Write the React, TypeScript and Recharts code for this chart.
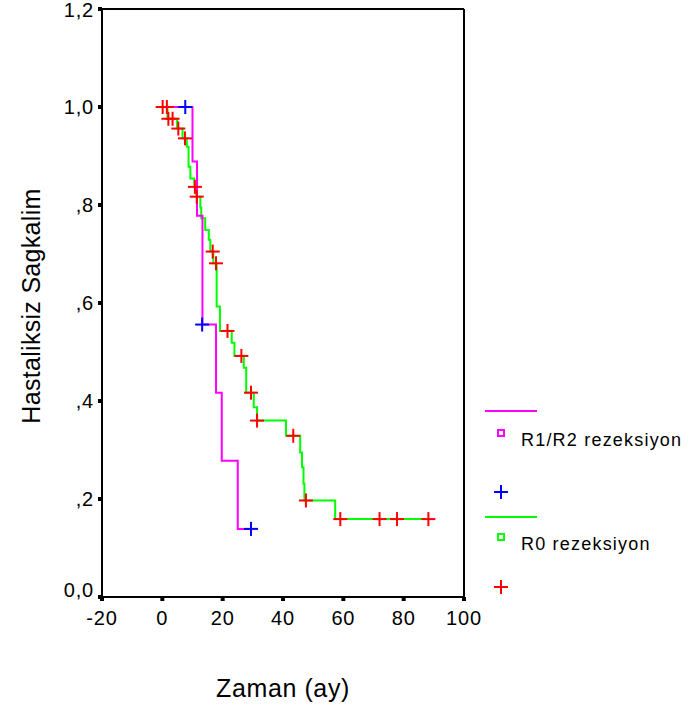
import { ComposedChart, Line, Scatter, XAxis, YAxis, ReferenceLine } from "recharts"

const FONT = '"Liberation Sans", Arial, Helvetica, sans-serif'

// axis ticks
const xTicks = [-20, 0, 20, 40, 60, 80, 100]
const yTicks = [0, 0.2, 0.4, 0.6, 0.8, 1.0, 1.2]

// R1/R2 rezeksiyon (step curve + censored cases)
const r12Time = [0, 10, 11.5, 13.3, 17.8, 19.7, 25, 29.4]
const r12Surv = [1, 0.889, 0.778, 0.556, 0.417, 0.278, 0.139, 0.139]
const r12CensorTime = [7.6, 13.2, 29.4]
const r12CensorSurv = [1, 0.556, 0.139]

// R0 rezeksiyon
const r0Time = [
  0, 1.7, 4.9, 6.7, 8.1, 8.7, 9.3, 10.6, 11.3, 12.6, 12.9, 14.2, 15.4, 15.9, 16.9, 18.0, 19.1, 23.0, 23.9,
  27.0, 27.8, 30.3, 31.4, 41.0, 45.7, 46.3, 46.8, 47.1, 57.3, 88.2,
]
const r0Surv = [
  1, 0.976, 0.956, 0.936, 0.919, 0.878, 0.854, 0.837, 0.817, 0.795, 0.773, 0.749, 0.729, 0.705, 0.681, 0.593,
  0.543, 0.519, 0.492, 0.468, 0.417, 0.387, 0.36, 0.329, 0.295, 0.265, 0.231, 0.197, 0.159, 0.159,
]
const r0CensorTime = [0.1, 1.5, 2.0, 3.4, 5.3, 7.5, 10.8, 11.4, 16.7, 17.8, 21.6, 26.2, 29.4, 31.4, 43.4, 47.6, 59.0, 72.0, 77.8, 88.2]
const r0CensorSurv = [
  1, 1, 0.976, 0.976, 0.956, 0.936, 0.837, 0.817, 0.705, 0.681, 0.543, 0.492, 0.417, 0.36, 0.329, 0.197, 0.159,
  0.159, 0.159, 0.159,
]

const toPoints = (ts: number[], ss: number[]) => ts.map((t, i) => ({ t, s: ss[i] }))

const r12Line = toPoints(r12Time, r12Surv)
const r12Censor = toPoints(r12CensorTime, r12CensorSurv)
const r0Line = toPoints(r0Time, r0Surv)
const r0Censor = toPoints(r0CensorTime, r0CensorSurv)

const fmtY = (v: number) => {
  if (v === 0) return "0,0"
  if (v >= 1) return v.toFixed(1).replace(".", ",")
  return "," + Math.round(v * 10)
}

function Cross({ cx, cy, color }: { cx?: number; cy?: number; color: string }) {
  if (cx == null || cy == null) return null
  return (
    <g stroke={color} strokeWidth={2}>
      <line x1={cx - 7} y1={cy} x2={cx + 7} y2={cy} />
      <line x1={cx} y1={cy - 7} x2={cx} y2={cy + 7} />
    </g>
  )
}

// y tick labels; the 0,0 label sits a bit above its tick like in SPSS output
function YTick({ x, y, payload }: any) {
  const v = payload.value as number
  return (
    <text
      x={x}
      y={v === 0 ? y - 7 : v >= 1.2 ? y + 1 : y}
      dy="0.355em"
      textAnchor="end"
      fontFamily={FONT}
      fontSize={20}
      letterSpacing={0.8}
      fill="#000"
    >
      {fmtY(v)}
    </text>
  )
}

function KeyPanel() {
  const txt = { fontFamily: FONT, fontSize: 18, letterSpacing: 1.2, fill: "#000" }
  return (
    <svg width={213} height={210} style={{ position: "absolute", left: 480, top: 395 }}>
      <line x1={5} x2={57} y1={16} y2={16} stroke="#ff00ff" strokeWidth={2} />
      <rect x={18} y={35} width={6} height={6} fill="none" stroke="#ff00ff" strokeWidth={2} />
      <text x={41} y={51} {...txt}>R1/R2 rezeksiyon</text>
      <Cross cx={21} cy={97} color="#0000ff" />
      <line x1={5} x2={57} y1={122} y2={122} stroke="#00ff00" strokeWidth={2} />
      <rect x={18} y={139} width={6} height={6} fill="none" stroke="#00ff00" strokeWidth={2} />
      <text x={41} y={155} {...txt}>R0 rezeksiyon</text>
      <Cross cx={21} cy={192} color="#ff0000" />
    </svg>
  )
}

export default function App() {
  const tickStyle = { fill: "#000", fontSize: 20, fontFamily: FONT, letterSpacing: 0.8 }
  return (
    <div style={{ position: "absolute", left: 0, top: 0, width: 693, height: 713, background: "#fff" }}>
      <ComposedChart width={693} height={713} margin={{ top: 9, right: 229, bottom: 86, left: 0 }}>
        <XAxis
          type="number"
          dataKey="t"
          domain={[-20, 100]}
          ticks={xTicks}
          allowDataOverflow
          height={30}
          axisLine={{ stroke: "#000", strokeWidth: 2 }}
          tickLine={{ stroke: "#000", strokeWidth: 4 }}
          tickSize={4}
          tickMargin={10}
          tick={tickStyle}
          label={{
            content: (p: any) => {
              const vb = p.viewBox || { x: 102, width: 362 }
              return (
                <text
                  x={vb.x + vb.width / 2}
                  y={697}
                  textAnchor="middle"
                  fontFamily={FONT}
                  fontSize={25}
                  letterSpacing={0.6}
                  fill="#000"
                >
                  Zaman (ay)
                </text>
              )
            },
          }}
        />
        <YAxis
          type="number"
          dataKey="s"
          domain={[0, 1.2]}
          ticks={yTicks}
          allowDataOverflow
          width={102}
          axisLine={{ stroke: "#000", strokeWidth: 2 }}
          tickLine={{ stroke: "#000", strokeWidth: 4 }}
          tickSize={4}
          tickMargin={4}
          tick={<YTick />}
          label={{
            content: () => (
              <text
                x={40}
                y={306}
                transform="rotate(-90 40 306)"
                textAnchor="middle"
                fontFamily={FONT}
                fontSize={25}
                letterSpacing={0.3}
                fill="#000"
              >
                Hastaliksiz Sagkalim
              </text>
            ),
          }}
        />
        <ReferenceLine y={1.2} stroke="#000" strokeWidth={2} />
        <ReferenceLine x={100} stroke="#000" strokeWidth={2} />
        <Line
          data={r0Line}
          dataKey="s"
          type="stepAfter"
          stroke="#00ff00"
          strokeWidth={2}
          dot={false}
          isAnimationActive={false}
        />
        <Line
          data={r12Line}
          dataKey="s"
          type="stepAfter"
          stroke="#ff00ff"
          strokeWidth={2}
          dot={false}
          isAnimationActive={false}
        />
        <Scatter
          data={r12Censor}
          dataKey="s"
          shape={(p: any) => <Cross cx={p.cx} cy={p.cy} color="#0000ff" />}
          isAnimationActive={false}
        />
        <Scatter
          data={r0Censor}
          dataKey="s"
          shape={(p: any) => <Cross cx={p.cx} cy={p.cy} color="#ff0000" />}
          isAnimationActive={false}
        />
      </ComposedChart>
      <KeyPanel />
    </div>
  )
}
